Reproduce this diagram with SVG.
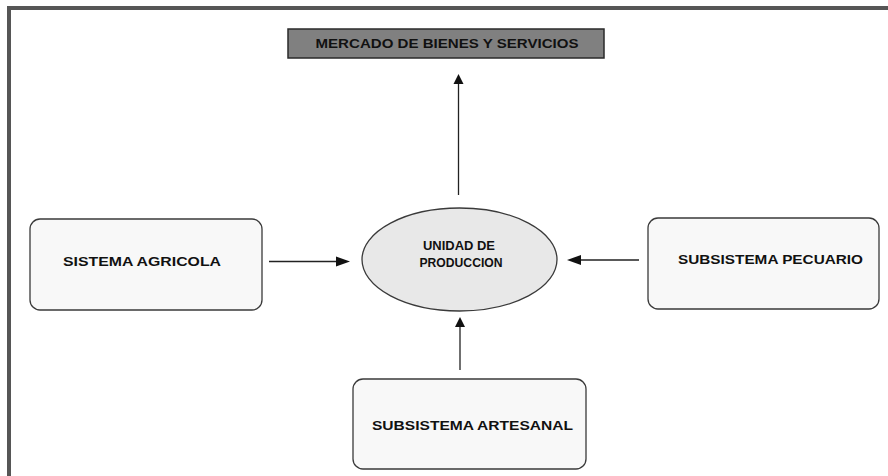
<svg xmlns="http://www.w3.org/2000/svg" width="888" height="476" viewBox="0 0 888 476">
<style>
.frame{fill:none;stroke:#565656;stroke-width:4}
.box{fill:#f8f8f8;stroke:#3a3a3a;stroke-width:1.3}
.top{fill:#808080;stroke:#2a2a2a;stroke-width:1.5}
.ell{fill:#e8e8e8;stroke:#3a3a3a;stroke-width:1.3}
.t{font-family:"Liberation Sans",Arial,sans-serif;font-weight:bold;font-size:13px;fill:#111;text-anchor:middle}
.c{stroke:#222;stroke-width:1.3;fill:none}
.h{fill:#111}
</style>
<rect width="888" height="476" fill="#ffffff"/>
<path class="frame" d="M9,476 V8 H888"/>
<g id="mercado">
<rect class="top" x="288" y="29" width="316" height="29"/>
<text class="t" x="447" y="47.5" textLength="263" lengthAdjust="spacingAndGlyphs">MERCADO DE BIENES Y SERVICIOS</text>
</g>
<g id="unidad">
<ellipse class="ell" cx="459.5" cy="259.5" rx="97.5" ry="51.5"/>
<text class="t" x="459" y="250" textLength="72" lengthAdjust="spacingAndGlyphs">UNIDAD DE</text>
<text class="t" x="461" y="266.5" textLength="83" lengthAdjust="spacingAndGlyphs">PRODUCCION</text>
</g>
<g id="agricola">
<rect class="box" x="30" y="219" width="232" height="91" rx="10"/>
<text class="t" x="142" y="266" textLength="158" lengthAdjust="spacingAndGlyphs">SISTEMA AGRICOLA</text>
</g>
<g id="pecuario">
<rect class="box" x="648" y="218" width="231" height="91" rx="10"/>
<text class="t" x="770.5" y="263.5" textLength="185" lengthAdjust="spacingAndGlyphs">SUBSISTEMA PECUARIO</text>
</g>
<g id="artesanal">
<rect class="box" x="353" y="379" width="233" height="90" rx="10"/>
<text class="t" x="472.5" y="430" textLength="201" lengthAdjust="spacingAndGlyphs">SUBSISTEMA ARTESANAL</text>
</g>
<g id="connectors">
<line class="c" x1="458.5" y1="195" x2="458.5" y2="84"/>
<polygon class="h" points="458.5,74 453.5,84 463.5,84"/>
<line class="c" x1="269" y1="261.5" x2="336" y2="261.5"/>
<polygon class="h" points="350,261.5 336,256.5 336,266.5"/>
<line class="c" x1="639" y1="260" x2="581" y2="260"/>
<polygon class="h" points="567,260 581,255 581,265"/>
<line class="c" x1="460" y1="370" x2="460" y2="327"/>
<polygon class="h" points="460,317 455,327 465,327"/>
</g>
</svg>
